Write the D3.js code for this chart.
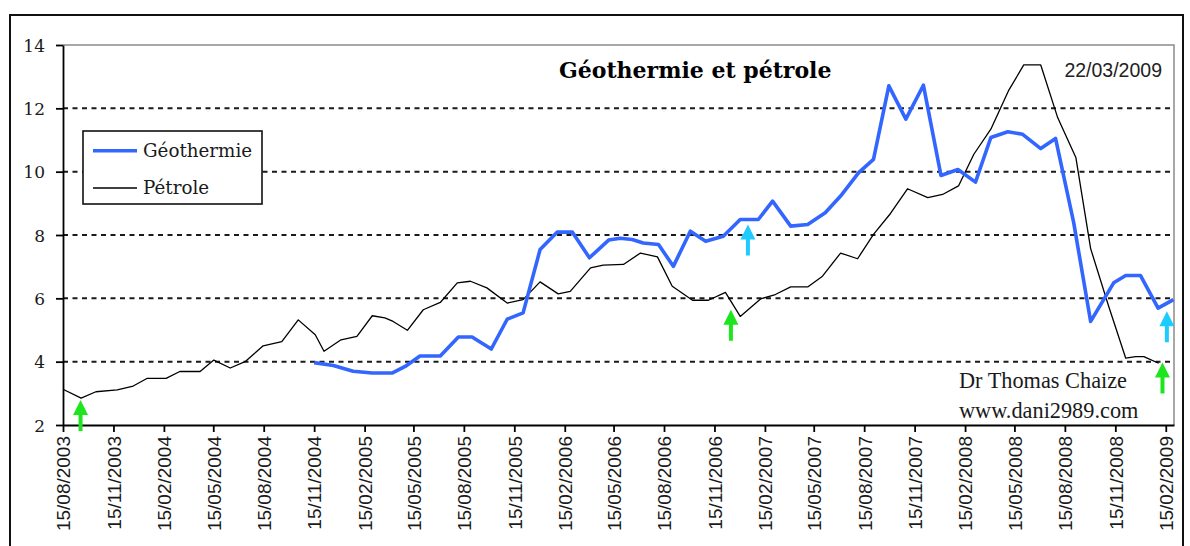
<!DOCTYPE html>
<html><head><meta charset="utf-8">
<script src="https://cdn.jsdelivr.net/npm/d3@7"></script>
<style>body{margin:0;background:#fff}svg{display:block}</style>
</head><body>
<svg id="c" width="1190" height="546"></svg>
<script>
// ---------- data ----------
const petroleDates = ["2003-08-15","2003-09-17","2003-10-14","2003-11-22","2003-12-21","2004-01-15","2004-02-19","2004-03-15","2004-04-21","2004-05-16","2004-06-15","2004-07-12","2004-08-14","2004-09-17","2004-10-17","2004-11-17","2004-12-03","2005-01-03","2005-02-01","2005-03-01","2005-03-24","2005-04-08","2005-05-04","2005-06-02","2005-07-03","2005-08-03","2005-08-27","2005-09-26","2005-11-02","2005-12-01","2006-01-01","2006-02-03","2006-02-25","2006-04-03","2006-04-26","2006-06-02","2006-07-03","2006-08-03","2006-08-30","2006-10-06","2006-11-04","2006-12-05","2007-01-01","2007-02-07","2007-03-06","2007-04-03","2007-05-04","2007-05-31","2007-07-03","2007-08-03","2007-09-01","2007-10-02","2007-11-02","2007-12-09","2008-01-05","2008-02-03","2008-03-02","2008-04-02","2008-05-04","2008-06-01","2008-07-02","2008-08-02","2008-09-04","2008-10-01","2008-11-03","2008-12-04","2008-12-22","2009-01-06","2009-02-02"];
const petroleValues = [3.13,2.85,3.05,3.11,3.23,3.47,3.47,3.69,3.69,4.05,3.80,4.00,4.50,4.63,5.32,4.85,4.33,4.69,4.80,5.45,5.38,5.27,4.99,5.64,5.87,6.49,6.54,6.33,5.85,5.96,6.52,6.14,6.22,6.96,7.05,7.07,7.43,7.31,6.38,5.94,5.94,6.19,5.43,5.98,6.12,6.36,6.36,6.70,7.43,7.25,8.02,8.68,9.46,9.18,9.28,9.55,10.55,11.34,12.55,13.37,13.37,11.70,10.45,7.57,5.74,4.11,4.16,4.16,3.95];

const geoDates = ["2004-11-15","2004-12-20","2005-01-25","2005-03-01","2005-04-06","2005-04-30","2005-05-27","2005-07-03","2005-08-05","2005-08-30","2005-10-04","2005-11-02","2005-12-01","2006-01-01","2006-02-01","2006-03-01","2006-04-01","2006-05-06","2006-05-27","2006-06-18","2006-07-08","2006-08-05","2006-09-01","2006-10-02","2006-10-30","2006-12-01","2007-01-01","2007-02-03","2007-03-01","2007-04-03","2007-05-04","2007-06-05","2007-07-03","2007-08-05","2007-09-01","2007-09-29","2007-10-30","2007-12-01","2008-01-02","2008-02-02","2008-03-05","2008-04-02","2008-05-03","2008-05-30","2008-07-02","2008-07-29","2008-08-31","2008-10-01","2008-11-12","2008-12-04","2008-12-31","2009-02-01","2009-03-01"];
const geoValues = [3.97,3.88,3.70,3.64,3.64,3.85,4.18,4.18,4.78,4.78,4.40,5.34,5.54,7.54,8.09,8.09,7.28,7.84,7.90,7.86,7.75,7.70,7.01,8.12,7.80,7.96,8.49,8.49,9.07,8.28,8.33,8.70,9.23,9.97,10.39,12.71,11.66,12.73,9.88,10.07,9.67,11.08,11.26,11.18,10.73,11.05,8.40,5.27,6.49,6.72,6.72,5.69,5.96];

const xTickLabels = ["15/08/2003","15/11/2003","15/02/2004","15/05/2004","15/08/2004","15/11/2004","15/02/2005","15/05/2005","15/08/2005","15/11/2005","15/02/2006","15/05/2006","15/08/2006","15/11/2006","15/02/2007","15/05/2007","15/08/2007","15/11/2007","15/02/2008","15/05/2008","15/08/2008","15/11/2008","15/02/2009"];
const yTicks = [2,4,6,8,10,12,14];

const arrowDates = ["2003-09-16","2006-12-15","2007-01-15","2009-02-09","2009-02-17"];
const arrowValues = [2.79,5.64,8.33,3.97,5.59];
const arrowSeries = ["Pétrole","Pétrole","Géothermie","Pétrole","Géothermie"];

const seriesNames = ["Géothermie","Pétrole"];
const titleText = "Géothermie et pétrole";
const dateText = "22/03/2009";
const authorText = "Dr Thomas Chaize";
const siteText = "www.dani2989.com";
const xDomain = ["2003-08-15","2009-03-02"];

// ---------- drawing ----------
const pISO = d3.utcParse("%Y-%m-%d");
const pFR = d3.utcParse("%d/%m/%Y");
const svg = d3.select("#c");

const L = 63, R = 1174, T = 45, B = 425;
const x = d3.scaleUtc().domain(xDomain.map(pISO)).range([L, R]);
const y = d3.scaleLinear().domain([2, 14]).range([B, T]);

// outer chart border
svg.append("rect").attr("x",10).attr("y",15).attr("width",1173).attr("height",560)
  .attr("fill","none").attr("stroke","#111").attr("stroke-width",2);

// gridlines
svg.append("g").selectAll("line").data(yTicks.filter(v => v > 2 && v < 14)).join("line")
  .attr("x1", L).attr("x2", R).attr("y1", d => y(d)).attr("y2", d => y(d))
  .attr("stroke","#1a1a1a").attr("stroke-width",2).attr("stroke-dasharray","5,4.5");

// plot area frame (top/right)
svg.append("path").attr("d", `M${L},${y(14)}H${R}V${B}`)
  .attr("fill","none").attr("stroke","#8c8c8c").attr("stroke-width",1.5);

// axes
const yAxis = svg.append("g").attr("transform",`translate(${L},0)`)
  .call(d3.axisLeft(y).tickValues(yTicks).tickSize(7).tickSizeOuter(0).tickFormat(d3.format("d")));
yAxis.select(".domain").attr("stroke","#000").attr("stroke-width",1.8);
yAxis.selectAll(".tick line").attr("stroke","#000").attr("stroke-width",1.8);
yAxis.selectAll(".tick text").attr("x",-18).attr("dy","0.36em")
  .attr("font-family","DejaVu Serif").attr("font-size",17).attr("fill","#1a1a1a");

const xAxis = svg.append("g").attr("transform",`translate(0,${B})`)
  .call(d3.axisBottom(x).tickValues(xTickLabels.map(pFR)).tickSize(7).tickSizeOuter(0)
    .tickFormat(d3.utcFormat("%d/%m/%Y")));
xAxis.select(".domain").attr("stroke","#000").attr("stroke-width",1.8);
xAxis.selectAll(".tick line").attr("stroke","#000").attr("stroke-width",1.8);
xAxis.selectAll(".tick text")
  .attr("transform","rotate(-90)").attr("x",-11).attr("y",0).attr("dy","0.36em")
  .attr("text-anchor","end")
  .attr("font-family","Liberation Sans").attr("font-size",19).attr("fill","#1a1a1a");

// lines
const line = d3.line().x(d => x(d[0])).y(d => y(d[1]));
const petrole = petroleDates.map((d,i) => [pISO(d), petroleValues[i]]);
const geo = geoDates.map((d,i) => [pISO(d), geoValues[i]]);
svg.append("path").datum(petrole).attr("d", line)
  .attr("fill","none").attr("stroke","#000").attr("stroke-width",1.3).attr("stroke-linejoin","round");
svg.append("path").datum(geo).attr("d", line)
  .attr("fill","none").attr("stroke","#3366ff").attr("stroke-width",3.6).attr("stroke-linejoin","round");

// arrows
const arrowColor = {"Pétrole":"#1ee61e","Géothermie":"#1ecbff"};
const ag = svg.append("g");
arrowDates.forEach((d,i) => {
  const ax = x(pISO(d)), ay = y(arrowValues[i]);
  ag.append("path")
    .attr("d", `M${ax},${ay} L${ax+7.5},${ay+15} L${ax+2},${ay+15} L${ax+2},${ay+31} L${ax-2},${ay+31} L${ax-2},${ay+15} L${ax-7.5},${ay+15} Z`)
    .attr("fill", arrowColor[arrowSeries[i]]);
});

// legend
const lg = svg.append("g");
lg.append("rect").attr("x",83).attr("y",131).attr("width",179).attr("height",73)
  .attr("fill","#fff").attr("stroke","#111").attr("stroke-width",1.6);
const legendStyle = [{c:"#3366ff", w:3.6, y:150.7}, {c:"#000", w:1.3, y:188}];
seriesNames.forEach((n,i) => {
  const s = legendStyle[i];
  lg.append("line").attr("x1",93).attr("x2",137).attr("y1",s.y).attr("y2",s.y)
    .attr("stroke",s.c).attr("stroke-width",s.w);
  lg.append("text").attr("x",143).attr("y",s.y+6.3).text(n)
    .attr("font-family","DejaVu Serif").attr("font-size",18.3).attr("fill","#1a1a1a");
});

// texts
svg.append("text").attr("x",559).attr("y",78).text(titleText)
  .attr("font-family","DejaVu Serif").attr("font-weight","bold").attr("font-size",22).attr("fill","#000");
svg.append("text").attr("x",1162).attr("y",77).attr("text-anchor","end").text(dateText)
  .attr("font-family","Liberation Sans").attr("font-size",19.5).attr("fill","#222");
svg.append("text").attr("x",959).attr("y",387.5).text(authorText)
  .attr("font-family","Liberation Serif").attr("font-size",22.3).attr("fill","#1a1a1a");
svg.append("text").attr("x",959).attr("y",418).text(siteText)
  .attr("font-family","Liberation Serif").attr("font-size",22.3).attr("fill","#1a1a1a");
</script>
</body></html>
